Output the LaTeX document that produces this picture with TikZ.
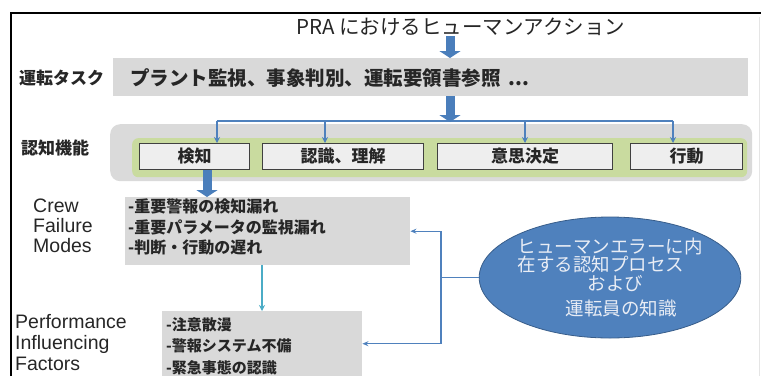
\documentclass[tikz,border=0pt]{standalone}
\usepackage{fontspec}
\setmainfont{Liberation Sans}
\newfontfamily\jp{Noto Sans CJK JP}
\usetikzlibrary{arrows.meta,shapes.geometric}
\definecolor{barGray}{HTML}{D9D9D9}
\definecolor{cogGray}{HTML}{DADADA}
\definecolor{bandGreen}{HTML}{C9DB9F}
\definecolor{boxFill}{HTML}{EEEEEE}
\definecolor{boxEdge}{HTML}{404040}
\definecolor{arrBlue}{HTML}{4A7EBB}
\definecolor{connBlue}{HTML}{4F81BD}
\definecolor{tealC}{HTML}{4BACC6}
\definecolor{ellBlue}{HTML}{4F81BD}
\definecolor{ellEdge}{HTML}{385D8A}
\definecolor{ellText}{HTML}{E9EDF5}
\definecolor{txtDark}{HTML}{262626}
\begin{document}
\begin{tikzpicture}[x=1pt,y=1pt,
  bigarrow/.style={line width=9pt, arrBlue, -{Triangle[length=7pt,width=21pt]}},
  conn/.style={line width=2.4pt, connBlue},
  connarrow/.style={conn, -{Stealth[length=6pt,width=6pt]}},
  thinconn/.style={line width=1.1pt, connBlue},
  thinarrow/.style={thinconn, -{Stealth[length=6pt,width=5pt]}},
  tealarrow/.style={line width=1.8pt, tealC, -{Stealth[length=6pt,width=6pt]}},
  cbox/.style={draw=boxEdge, fill=boxFill, line width=1pt, minimum height=26pt, inner sep=0, anchor=north west, text=txtDark, font=\jp\bfseries\fontsize{17}{20}\selectfont},
  graybox/.style={fill=barGray, inner sep=0, anchor=north west},
  lbl/.style={inner sep=0, anchor=west, text=txtDark, font=\jp\bfseries\fontsize{17}{20}\selectfont},
  enlbl/.style={inner sep=0, anchor=west, align=left, text=txtDark},
  listtxt/.style={inner sep=0, anchor=west, align=left, text=txtDark}
]
\useasboundingbox (0,0) rectangle (761,-376);
% frame
\coordinate (fr1) at (10.5,-376);
\coordinate (fr2) at (10.5,-13);
\coordinate (fr3) at (761,-13);
\draw[line width=2pt] (fr1) -- (fr2) -- (fr3);
\coordinate (fr4) at (759,-17);
\coordinate (fr5) at (759,-376);
\draw[line width=0.8pt, black!10] (fr4) -- (fr5);

% title
\node[inner sep=0, text=txtDark, font=\jp\fontsize{20.5}{22}\selectfont] (title) at (461,-27) {PRA におけるヒューマンアクション};
\coordinate (ax) at (450,0);

% task bar
\node[lbl] (tasklbl) at (19,-78) {運転タスク};
\node[graybox, minimum width=635pt, minimum height=38pt] (bar) at (113,-58) {};
\node[lbl, font=\jp\bfseries\fontsize{19.5}{22}\selectfont] (bartxt) at (130,-78) {プラント監視、事象判別、運転要領書参照\hspace{0.4em}...};
\draw[bigarrow] (title.south -| ax) -- (bar.north -| ax);

% cognitive functions
\node[lbl] (coglbl) at (21,-148) {認知機能};
\node[fill=cogGray, rounded corners=10pt, minimum width=642pt, minimum height=57pt, inner sep=0, anchor=north west] (cog) at (110,-124) {};
\node[fill=bandGreen, rounded corners=6pt, minimum width=615pt, minimum height=39pt, inner sep=0, anchor=north west] (band) at (132,-138) {};
\node[cbox, minimum width=110pt] (b1) at (139,-143) {検知};
\node[cbox, minimum width=161pt] (b2) at (262,-143) {認識、理解};
\node[cbox, minimum width=175pt] (b3) at (437,-143) {意思決定};
\node[cbox, minimum width=112pt] (b4) at (630,-143) {行動};

\coordinate (hub) at (450,-121);
\coordinate (h1) at (217,-121);
\coordinate (h2) at (325,-121);
\coordinate (h3) at (525,-121);
\coordinate (h4) at (673,-121);
\draw[conn] (h1) -- (h4);
\draw[connarrow] (h1) -- (h1 |- b1.north);
\draw[connarrow] (h2) -- (h2 |- b2.north);
\draw[connarrow] (h3) -- (h3 |- b3.north);
\draw[connarrow] (h4) -- (h4 |- b4.north);
\draw[bigarrow] (bar.south -| ax) -- ([yshift=-1pt]hub);

% crew failure modes
\node[enlbl, font=\fontsize{19.5}{20}\selectfont] (crewlbl) at (33,-226) {Crew\\Failure\\Modes};
\node[graybox, minimum width=285pt, minimum height=68pt] (crew) at (125,-197) {};
\node[listtxt, font=\jp\bfseries\fontsize{16}{20.5}\selectfont] (crewtxt) at (128,-227) {-重要警報の検知漏れ\\-重要パラメータの監視漏れ\\-判断・行動の遅れ};
\coordinate (a3) at (207,0);
\draw[bigarrow] (b1.south -| a3) -- (crew.north -| a3);

% PIF
\node[enlbl, font=\fontsize{19.5}{21}\selectfont] (piflbl) at (15,-343) {Performance\\Influencing\\Factors};
\node[graybox, minimum width=200pt, minimum height=65pt] (pif) at (162,-311) {};
\node[listtxt, font=\jp\bfseries\fontsize{15}{21.5}\selectfont] (piftxt) at (166,-346) {-注意散漫\\-警報システム不備\\-緊急事態の認識};
\coordinate (tc) at (262,0);
\draw[tealarrow] (crew.south -| tc) -- (pif.north -| tc);

% ellipse
\node[ellipse, fill=ellBlue, draw=ellEdge, line width=0.8pt, minimum width=260pt, minimum height=121pt, inner sep=0,
      text=ellText, align=left, font=\jp\fontsize{18.5}{18.5}\selectfont] (ell) at (610,-277.5)
  {ヒューマンエラーに内\\在する認知プロセス\\\hspace*{3.8em}および\\[7pt]\hspace*{2.6em}運転員の知識};
\coordinate (jn) at (441,-277.5);
\draw[thinconn] (ell.west) -- (jn);
\draw[thinarrow] (jn) |- (crew.east);
\draw[thinarrow] (jn) |- (pif.east);
\end{tikzpicture}
\end{document}
